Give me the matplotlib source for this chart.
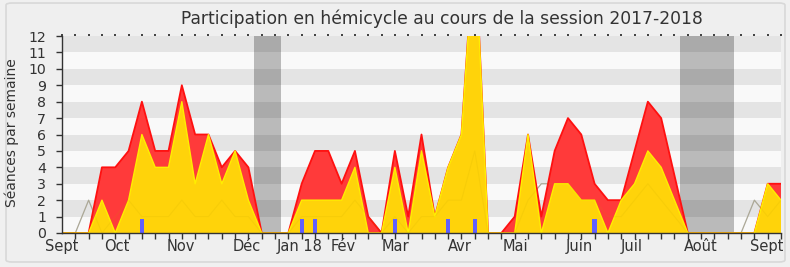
import matplotlib
matplotlib.use("Agg")
import matplotlib.pyplot as plt
from matplotlib.patches import FancyBboxPatch
import numpy as np

plt.rcParams['font.family'] = ['DejaVu Sans']

title = "Participation en hémicycle au cours de la session 2017-2018"
ylabel = "Séances par semaine"

# weekly values (week index 0..54)
presence = [0, 0, 0, 4, 4, 5, 8, 5, 5, 9, 6, 6, 4, 5, 4, 0, 0, 0, 3, 5,
            5, 3, 5, 1, 0, 5, 1, 6, 1, 4, 6, 18, 0, 0, 1, 6, 1, 5, 7, 6,
            3, 2, 2, 5, 8, 7, 3.5, 0, 0, 0, 0, 0, 0, 3, 3]
interventions = [0, 0, 0, 2, 0, 2, 6, 4, 4, 8, 3, 6, 3, 5, 2, 0, 0, 0, 2, 2,
                 2, 2, 4, 0, 0, 4, 0, 5, 1, 4, 6, 18, 0, 0, 0, 6, 0, 3, 3, 2,
                 2, 0, 2, 3, 5, 4, 2, 0, 0, 0, 0, 0, 0, 3, 2]
mediane = [0, 0, 2, 0, 1, 2, 1, 1, 1, 2, 1, 1, 2, 1, 1, 0, 0, 0, 1, 1,
           1, 1, 2, 1, 0, 1, 0, 1, 1, 2, 2, 5, 0, 0, 0, 2, 3, 3, 3, 2,
           2, 1, 1, 2, 3, 2, 1, 0, 0, 0, 0, 0, 2, 1, 2]
question_weeks = [6, 18, 19, 25, 29, 31, 40]
question_values = [0.85, 0.85, 0.85, 0.85, 0.85, 0.85, 0.85]
vacances = [(14.45, 16.45), (46.45, 50.45)]
month_labels = ["Sept", "Oct", "Nov", "Déc", "Jan 18", "Fév", "Mar", "Avr",
                "Mai", "Juin", "Juil", "Août", "Sept"]
month_pos = [0, 4.1, 8.9, 13.9, 17.85, 21.1, 25.06, 29.9, 34.08, 38.87,
             42.8, 47.95, 52.9]

weeks = np.arange(len(presence))

fig = plt.figure(figsize=(7.9, 2.67), dpi=100, facecolor='#f0f0f0')
# rounded frame
frame = FancyBboxPatch((6/790, 5/267), 779/790, 259/267,
                       boxstyle="round,pad=0,rounding_size=0.008",
                       transform=fig.transFigure, facecolor='#efefef',
                       edgecolor='#d8d8d8', linewidth=1.2, zorder=-10)
fig.patches.append(frame)

ax = fig.add_axes([62/790, 1 - 233/267, (781 - 62)/790, (233 - 36)/267])
ax.set_zorder(1)
ax.set_facecolor('#f9f9f9')
ax.set_xlim(0, 54)
ax.set_ylim(0, 12)

# horizontal bands
for k in range(1, 12, 2):
    ax.axhspan(k, k + 1, color='#e4e4e4', lw=0, zorder=0)

for a, b in vacances:
    ax.axvspan(a, b, color='black', alpha=0.25, lw=0, zorder=1)

ax.plot(weeks, mediane, color='#aaaaaa', lw=0.9, zorder=2)
ax.fill_between(weeks, presence, color='#ff3a3a', lw=0, zorder=3)
ax.plot(weeks, presence, color='#ff1010', lw=1.3, zorder=3.5)
ax.fill_between(weeks, interventions, color='#ffd30a', lw=0, zorder=4)
ax.plot(weeks, interventions, color='#ffee00', lw=1.0, zorder=4.5)
ax.plot(weeks, mediane, color='#c0a000', lw=0.8, alpha=0.12, zorder=5)
ax.bar(question_weeks, question_values, width=0.32, color='#6060ff', zorder=6)

for s in ['top', 'right']:
    ax.spines[s].set_visible(False)
for s in ['left', 'bottom']:
    ax.spines[s].set_color('#333333')
    ax.spines[s].set_linewidth(1.0)
    ax.spines[s].set_zorder(7)

ax.set_yticks(range(0, 13))
ax.set_yticklabels([str(v) for v in range(0, 13)])
ax.tick_params(axis='y', length=4.5, width=1, color='#333333',
               labelsize=10.2, labelcolor='#333333', pad=7)

ax.set_xticks(month_pos)
ax.set_xticklabels(month_labels)
ax.set_xticks(np.arange(0, 55), minor=True)
ax.tick_params(axis='x', which='major', length=0, labelsize=10.5,
               labelcolor='#333333', pad=4)
ax.tick_params(axis='x', which='minor', length=4, width=1, color='#333333')

top = ax.secondary_xaxis('top')
top.set_xticks(np.arange(0, 55))
top.set_xticklabels([])
top.tick_params(length=1.5, width=1.2, color='#222222')
top.spines['top'].set_visible(False)

ax.set_ylabel(ylabel, fontsize=10, color='#333333')
ax.yaxis.set_label_coords((19.5 - 62) / 719, (233 - 132.5) / 197)
fig.text(442/790, 1 - 19/267, title, ha='center', va='center',
         fontsize=12.3, color='#333333')

fig.savefig('out.png', dpi=100, facecolor=fig.get_facecolor())
